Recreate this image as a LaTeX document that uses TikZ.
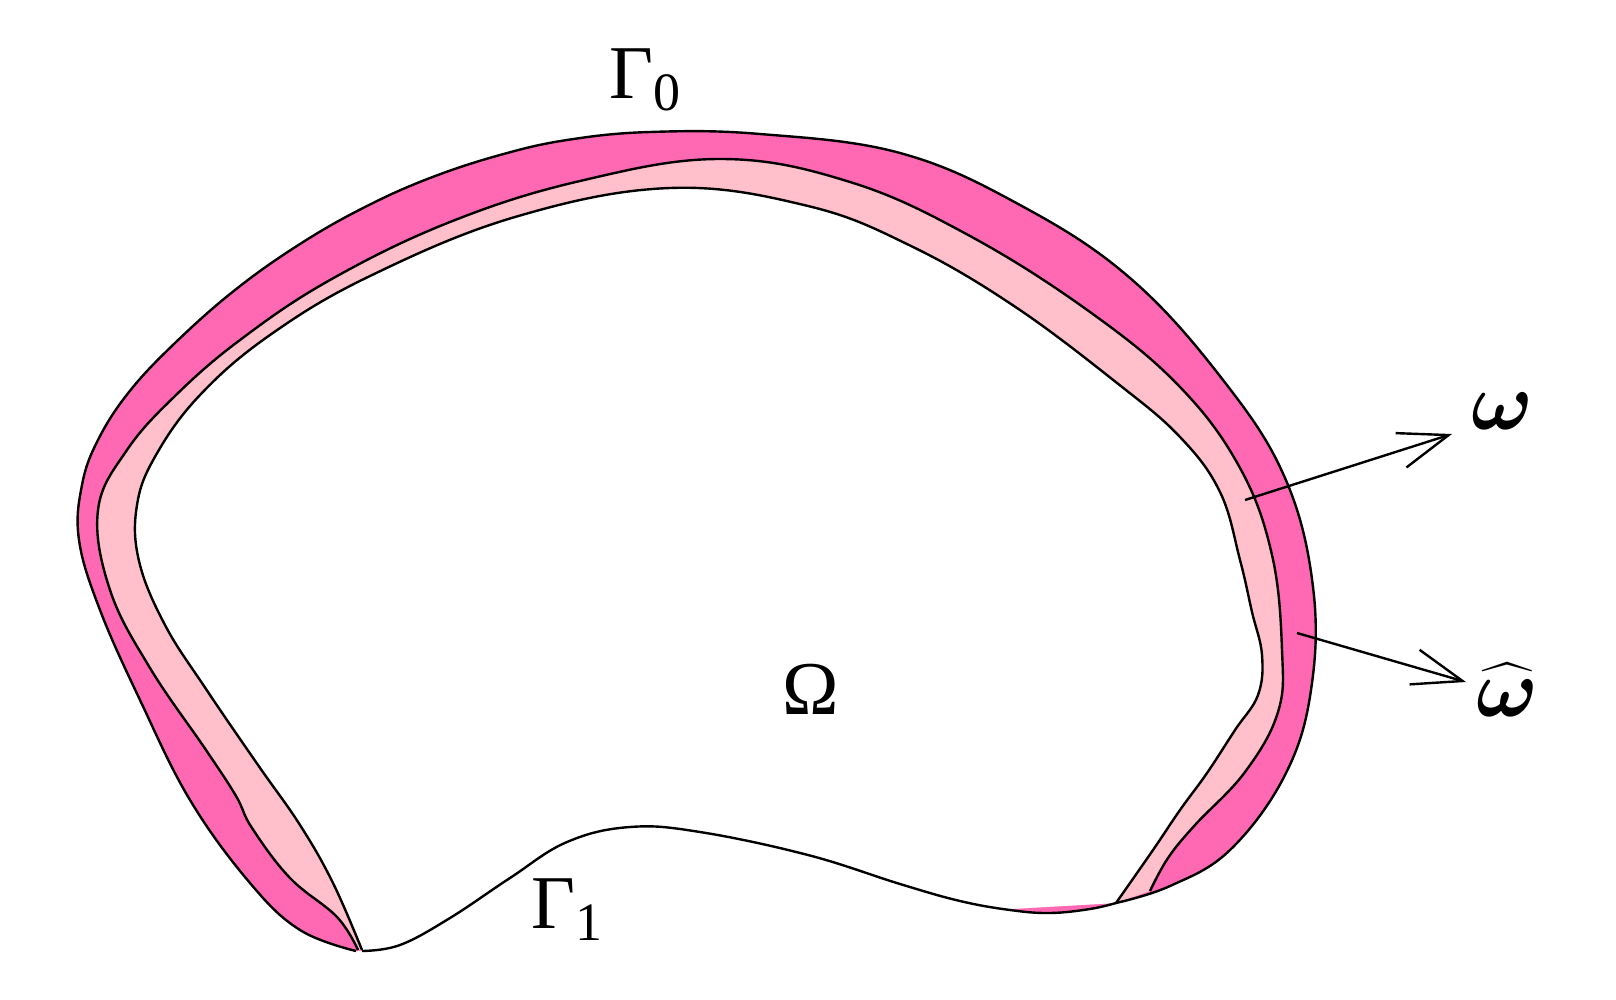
\RequirePackage{fix-cm}
\documentclass[tikz,border=0pt]{standalone}
\usepackage{amsmath}
\usepackage{fontspec}
\setmainfont{Liberation Serif}
\usetikzlibrary{arrows.meta}
\definecolor{hotpink}{HTML}{FF69B4}
\definecolor{lightpink}{HTML}{FFC0CB}
\newcommand\subsc[1]{\raisebox{-6pt}{\fontsize{27}{30}\selectfont #1}}
\begin{document}
\begin{tikzpicture}[x=0.5pt,y=-0.5pt,
  hotfill/.style={fill=hotpink},
  pinkfill/.style={fill=lightpink},
  whitefill/.style={fill=white},
  sm/.style={smooth,tension=0.65},
  edge/.style={draw=black,line width=1.2pt,line join=round},
  arr/.style={draw=black,line width=1.2pt,-{Straight Barb[length=25pt,width=18pt]}},
  lbl/.style={inner sep=0pt,font=\fontsize{38}{44}\selectfont},
  mlbl/.style={inner sep=0pt,font=\fontsize{41}{48}\selectfont}]
\useasboundingbox (0,0) rectangle (1616,1000);
% hot pink: whole domain
\fill[hotfill] plot[sm] coordinates {(356,951) (300,930) (250,883) (190,800) (140,700) (100,610) (79,540) (82,485) (98,440) (129,392) (175,343) (235,290) (300,244) (365,207) (430,178) (500,155) (567,140) (650,132) (760,134) (900,153) (1020,205) (1130,278) (1223,380) (1285,478) (1313,587) (1311,690) (1285,775) (1230,850) (1170,886) (1116,903)}
  -- plot[sm] coordinates {(1116,903) (1090,909) (1050,913) (1010,910) (960,901) (900,884) (808,855) (700,832) (630,827) (567,842) (510,878) (450,918) (400,945) (362,951)} -- cycle;
% light pink band
\fill[pinkfill] plot[sm] coordinates {(358,950) (337,917) (290,878) (252,828) (236,796) (206,750) (150,668) (110,590) (98,510) (127,450) (175,396) (240,340) (330,280) (450,222) (580,181) (721,159) (850,182) (970,236) (1090,312) (1180,387) (1240,468) (1272,555) (1282,650) (1278,712) (1245,772) (1195,825) (1168,858) (1150,891)}
  -- (1116,903) -- (1010,909)
  -- plot[sm] coordinates {(1010,910) (960,901) (900,884) (808,855) (700,832) (630,827) (567,842) (510,878) (450,918) (400,945) (362,951)} -- cycle;
% white interior
\fill[whitefill] plot[sm] coordinates {(362,950) (333,883) (300,825) (258,765) (206,689) (165,625) (139,561) (137,505) (156,455) (200,395) (270,335) (370,276) (515,217) (670,188) (808,206) (911,246) (1014,306) (1117,383) (1180,437) (1220,492) (1240,560) (1252,612) (1262,655) (1258,695) (1235,730) (1207,773) (1180,810) (1153,850) (1116,903)}
  -- (1010,909)
  -- plot[sm] coordinates {(1010,910) (960,901) (900,884) (808,855) (700,832) (630,827) (567,842) (510,878) (450,918) (400,945) (362,951)} -- cycle;
% outlines
\draw[edge] plot[sm] coordinates {(356,951) (300,930) (250,883) (190,800) (140,700) (100,610) (79,540) (82,485) (98,440) (129,392) (175,343) (235,290) (300,244) (365,207) (430,178) (500,155) (567,140) (650,132) (760,134) (900,153) (1020,205) (1130,278) (1223,380) (1285,478) (1313,587) (1311,690) (1285,775) (1230,850) (1170,886) (1116,903)};
\draw[edge] plot[sm] coordinates {(358,950) (337,917) (290,878) (252,828) (236,796) (206,750) (150,668) (110,590) (98,510) (127,450) (175,396) (240,340) (330,280) (450,222) (580,181) (721,159) (850,182) (970,236) (1090,312) (1180,387) (1240,468) (1272,555) (1282,650) (1278,712) (1245,772) (1195,825) (1168,858) (1150,891)};
\draw[edge] plot[sm] coordinates {(362,950) (333,883) (300,825) (258,765) (206,689) (165,625) (139,561) (137,505) (156,455) (200,395) (270,335) (370,276) (515,217) (670,188) (808,206) (911,246) (1014,306) (1117,383) (1180,437) (1220,492) (1240,560) (1252,612) (1262,655) (1258,695) (1235,730) (1207,773) (1180,810) (1153,850) (1116,903)};
\draw[edge] plot[sm] coordinates {(362,951) (400,945) (450,918) (510,878) (567,842) (630,827) (700,832) (808,855) (900,884) (960,901) (1010,910) (1050,913) (1090,909) (1116,903)};
% arrows
\coordinate (ws) at (1245,500);
\coordinate (we) at (1452,434);
\coordinate (hs) at (1297,633);
\coordinate (he) at (1466,682);
\draw[arr] (ws) -- (we);
\draw[arr] (hs) -- (he);
% labels
\node[lbl,anchor=base west] (g0) at (609,99) {Γ\subsc{0}};
\node[lbl,anchor=base west] (g1) at (531,928) {Γ\subsc{1}};
\node[lbl,anchor=base] (om) at (811,714) {Ω};
\node[mlbl,anchor=base west] (w) at (1471,429) {$\boldsymbol{\omega}$};
\node[mlbl,anchor=base west] (wh) at (1476,716) {$\widehat{\boldsymbol{\omega}}$};
\end{tikzpicture}
\end{document}
